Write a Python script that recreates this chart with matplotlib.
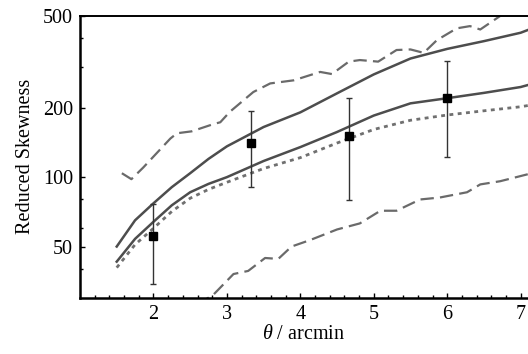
import numpy as np
import matplotlib
matplotlib.use("Agg")
import matplotlib.pyplot as plt
from matplotlib.ticker import FixedLocator, NullFormatter

plt.rcParams['font.family'] = ['Liberation Serif', 'DejaVu Serif']
plt.rcParams['mathtext.fontset'] = 'custom'
plt.rcParams['mathtext.it'] = 'Liberation Serif:italic'
plt.rcParams['mathtext.rm'] = 'Liberation Serif'

# model curves
theta = [1.5, 1.75, 2, 2.25, 2.5, 2.75, 3, 3.5, 4, 4.5, 5, 5.5, 6, 6.5, 7, 7.1]
upper_solid = [50, 65, 77, 90.5, 104, 120, 136, 165, 191, 231, 279, 327, 360, 389, 423, 435]
lower_solid = [43, 54, 64, 75.5, 86, 93.5, 100, 117.5, 135, 157, 185, 209, 220, 232, 246, 251]
dotted = [40.5, 51, 60, 71, 81, 88.5, 95, 109, 121.5, 140.6, 161, 176.5, 186, 194, 202, 204.5]

# scatter band (dashed)
upper_theta = [1.57, 1.70, 1.86, 2.23, 2.32, 2.52, 2.82, 2.91, 3.04, 3.36, 3.59, 3.91, 4.27,
               4.43, 4.66, 4.81, 5.06, 5.31, 5.50, 5.68, 5.86, 6.13, 6.31, 6.45, 6.72, 7.1]
upper_dash = [104, 98, 110, 147, 155, 158, 170, 173, 192, 234, 255, 263, 286,
              280, 317, 322, 317, 356, 358, 346, 393, 442, 452, 437, 500, 600]
lower_theta = [2.6, 2.82, 3.09, 3.29, 3.52, 3.70, 3.88, 4.13, 4.50, 4.81, 5.09, 5.31,
               5.63, 5.90, 6.27, 6.45, 6.72, 7.1]
lower_dash = [28, 31, 38, 39.2, 44.6, 44.2, 50, 53.3, 59.3, 63, 71.5, 71.5,
              80, 81.6, 86, 93, 96, 103]

# measurements with error bars
pts_theta = [2, 3.333, 4.667, 6]
pts_val = [55.4, 140.6, 150.4, 220.7]
pts_lo = [34.4, 90.6, 79.8, 122.3]
pts_hi = [76.6, 193, 220.7, 318.5]

fig = plt.figure(figsize=(5.28, 3.54), dpi=100)
ax = fig.add_axes([80 / 528, 1 - 297.7 / 354, 1 - 80 / 528, (297.7 - 16) / 354])

ax.plot(theta, upper_solid, color='#4d4d4d', lw=1.8)
ax.plot(theta, lower_solid, color='#4d4d4d', lw=1.8)
ax.plot(theta, dotted, color='#707070', lw=2.0, dashes=(1.4, 1.6))
ax.plot(upper_theta, upper_dash, color='#6a6a6a', lw=1.6, dashes=(6, 2.8))
ax.plot(lower_theta, lower_dash, color='#6a6a6a', lw=1.6, dashes=(6, 2.8))

vals = np.array(pts_val)
yerr = [vals - np.array(pts_lo), np.array(pts_hi) - vals]
ax.errorbar(pts_theta, pts_val, yerr=yerr, fmt='s', color='black', ms=5.5,
            ecolor='#333333', elinewidth=1.0, capsize=2.5, capthick=1.0)

ax.set_yscale('log')
ax.set_xlim(1.0, 7.1)
ax.set_ylim(30, 500)

ax.yaxis.set_major_locator(FixedLocator([50, 100, 200, 500]))
ax.yaxis.set_minor_locator(FixedLocator([40, 60, 80, 300, 400]))
ax.yaxis.set_major_formatter(plt.FixedFormatter(['50', '100', '200', '500']))
ax.yaxis.set_minor_formatter(NullFormatter())
ax.xaxis.set_major_locator(FixedLocator([2, 3, 4, 5, 6, 7]))
ax.xaxis.set_minor_locator(FixedLocator(np.arange(1.2, 7.1, 0.2)))

ax.tick_params(which='both', direction='in', top=False, right=False,
               labelsize=14.5, width=1.0)
ax.tick_params(which='major', length=3.5, pad=5)
ax.tick_params(which='minor', length=2.5)

ax.spines['right'].set_visible(False)
ax.spines['left'].set_linewidth(1.8)
ax.spines['bottom'].set_linewidth(1.8)
ax.spines['top'].set_linewidth(1.4)

ax.set_xlabel(r'$\theta$ / arcmin', fontsize=14.5, labelpad=1)
ax.set_ylabel('Reduced Skewness', fontsize=14.5, labelpad=6)

fig.savefig('out.png', dpi=100)
